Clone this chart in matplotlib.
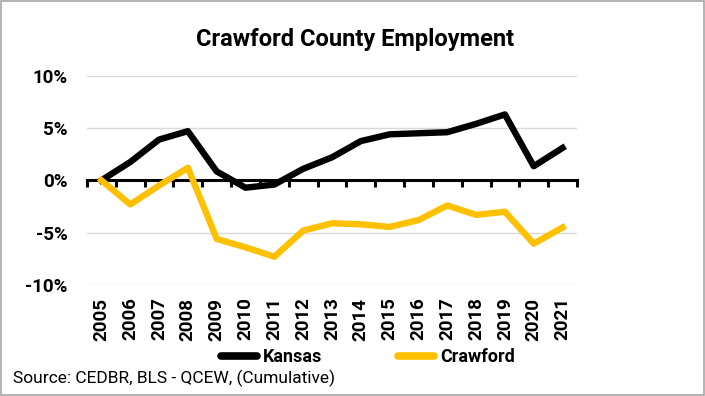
import numpy as np
import matplotlib
matplotlib.use("Agg")
from matplotlib import pyplot as plt
from matplotlib import transforms
from matplotlib.patches import Rectangle

years = [str(y) for y in range(2005, 2022)]
kansas = [0.0, 1.75, 3.9, 4.7, 0.85, -0.7, -0.4, 1.1, 2.2, 3.75, 4.4, 4.5, 4.6, 5.4, 6.3, 1.35, 3.1]
crawford = [0.0, -2.3, -0.5, 1.2, -5.6, -6.4, -7.3, -4.8, -4.1, -4.2, -4.45, -3.8, -2.4, -3.3, -3.0, -6.05, -4.5]
yticks = [-10, -5, 0, 5, 10]

plt.rcParams['font.family'] = ['Roboto', 'DejaVu Sans']

fig = plt.figure(figsize=(7.05, 3.96), dpi=100)
# grey border round the whole chart
fig.patches.append(Rectangle((0.002, 0.003), 0.996, 0.994, transform=fig.transFigure,
                             fill=False, edgecolor='#a6a6a6', linewidth=1.2))

ax = fig.add_axes([0.1234, 0.2803, 0.695, 0.5285])
x = np.arange(len(years))

ax.plot(x, kansas, color='black', linewidth=4.6, zorder=3, label='Kansas')
ax.plot(x, crawford, color='#FFC000', linewidth=4.6, zorder=3, label='Crawford')

ax.set_xlim(-0.5, len(years) - 0.5)
ax.set_ylim(-10, 10)
ax.set_yticks(yticks)
ax.set_yticklabels([f"{v}%" for v in yticks], fontsize=13.5, fontweight='bold')
ax.tick_params(axis='y', length=0, pad=14)
ax.yaxis.grid(True, color='#d9d9d9', linewidth=1)
ax.set_axisbelow(True)

for s in ['top', 'left', 'right']:
    ax.spines[s].set_visible(False)
# category axis sits on the zero line
ax.spines['bottom'].set_position(('data', 0))
ax.spines['bottom'].set_linewidth(2.2)
ax.set_xticks([])
ax.set_xticks(np.arange(len(years) + 1) - 0.5, minor=True)
ax.tick_params(axis='x', which='minor', direction='out', length=5, width=2.2, color='black')

# year labels at the bottom of the plot area
trans = transforms.blended_transform_factory(ax.transData, ax.transAxes)
for xi, lab in zip(x, years):
    ax.text(xi, -0.06, lab, transform=trans, rotation=90, ha='center', va='top',
            fontsize=13.5, fontweight='bold')

fig.text(355 / 705, 1 - 46 / 396, 'Crawford County Employment', ha='center', va='baseline',
         fontsize=17, fontweight='bold')

leg = fig.legend(loc='center', bbox_to_anchor=(368 / 705, 1 - 357 / 396), ncol=2, frameon=False,
                 handlelength=2.0, handletextpad=0.35, columnspacing=4.2,
                 prop={'weight': 'bold', 'size': 13})
for h in leg.legend_handles:
    h.set_linewidth(5.5)
    h.set_solid_capstyle('round')

fig.text(13 / 705, 1 - 378 / 396, 'Source: CEDBR, BLS - QCEW, (Cumulative)', ha='left',
         va='center', fontsize=12.5)

fig.savefig('out.png', dpi=100)
